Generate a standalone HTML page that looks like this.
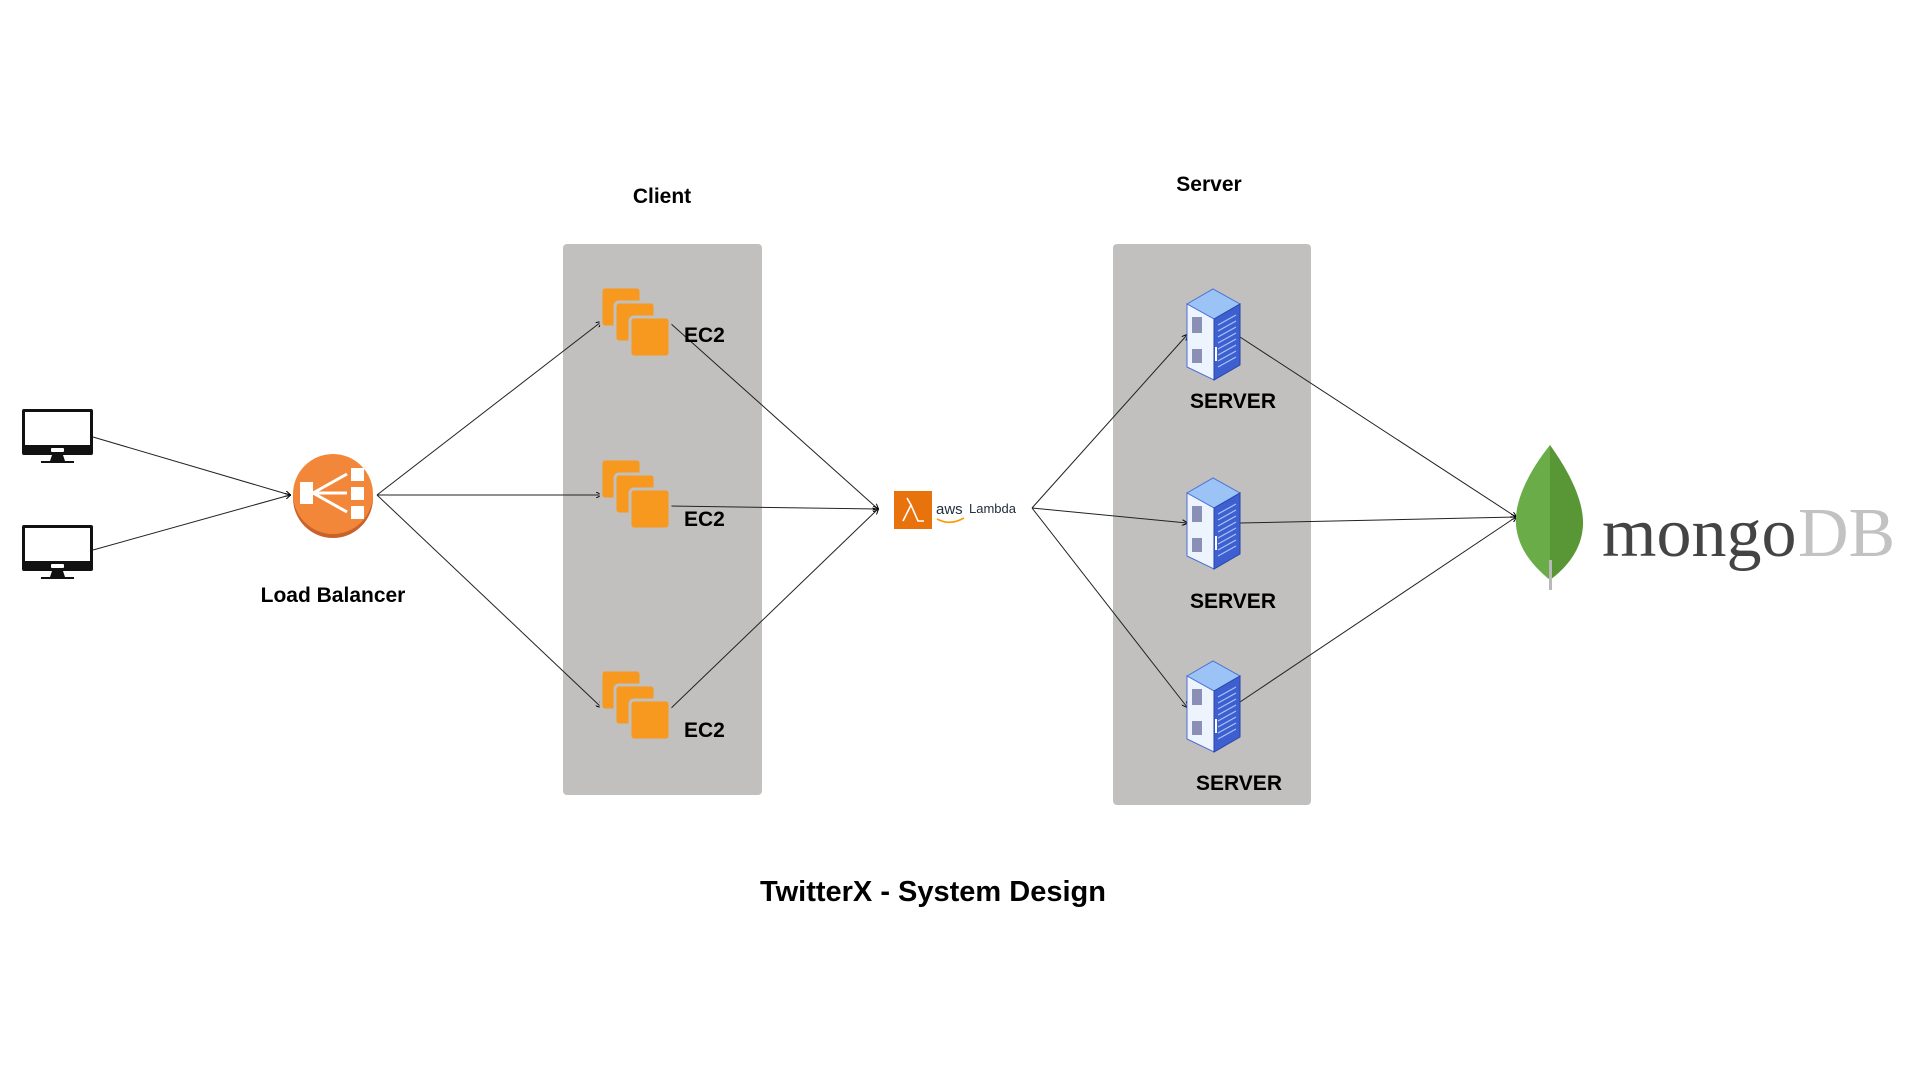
<!DOCTYPE html>
<html><head><meta charset="utf-8"><style>
html,body{margin:0;padding:0;background:#fff;}
svg{display:block}
.l{font-family:"Liberation Sans",sans-serif;font-weight:bold;fill:#000}
</style></head><body>
<svg width="1920" height="1080" viewBox="0 0 1920 1080" xmlns="http://www.w3.org/2000/svg">
<defs>
<marker id="a" markerWidth="6" markerHeight="6" refX="5" refY="3" orient="auto"><path d="M0,0 L6,3 L0,6" fill="none" stroke="#000" stroke-width="1"/></marker>
<g id="ec2">
<rect x="0" y="0" width="40" height="40" rx="4" fill="#f7991f" stroke="#c1c0bf" stroke-width="3"/>
<rect x="14" y="15" width="40" height="40" rx="4" fill="#f7991f" stroke="#c1c0bf" stroke-width="3"/>
<rect x="29" y="30" width="40" height="40" rx="4" fill="#f7991f" stroke="#c1c0bf" stroke-width="3"/>
</g>
<g id="srv">
<polygon points="0,15 26,0 53,15 27,30" fill="#9cc3f5" stroke="#4a6fd6" stroke-width="1"/>
<polygon points="0,15 27,30 27,91 0,78" fill="#eef4fd" stroke="#4a6fd6" stroke-width="1"/>
<polygon points="27,30 53,15 53,76 27,91" fill="#3d5fd0" stroke="#2a45a8" stroke-width="1"/>
<rect x="5" y="28" width="10" height="16" fill="#8a8fb5"/>
<rect x="5" y="60" width="10" height="14" fill="#8a8fb5"/>
<g stroke="#a9c4f7" stroke-width="1.2">
<line x1="31" y1="36" x2="49" y2="26"/><line x1="31" y1="42" x2="49" y2="32"/><line x1="31" y1="48" x2="49" y2="38"/><line x1="31" y1="54" x2="49" y2="44"/><line x1="31" y1="60" x2="49" y2="50"/><line x1="31" y1="66" x2="49" y2="56"/><line x1="31" y1="72" x2="49" y2="62"/><line x1="31" y1="78" x2="49" y2="68"/>
</g>
<line x1="29" y1="58" x2="29" y2="72" stroke="#fff" stroke-width="2"/>
</g>
<g id="mon">
<rect x="0" y="0" width="71" height="46" rx="2" fill="#111"/>
<rect x="3" y="3" width="65" height="33" fill="#fff"/>
<rect x="29" y="39" width="13" height="4" rx="1" fill="#fff"/>
<polygon points="30,46 41,46 43,52 28,52" fill="#111"/>
<rect x="19" y="52" width="33" height="2" fill="#111"/>
</g>
</defs>

<rect x="563" y="244" width="199" height="551" rx="4" fill="#c1c0bf"/>
<rect x="1113" y="244" width="198" height="561" rx="4" fill="#c1c0bf"/>

<text class="l" x="662" y="203" font-size="21" text-anchor="middle">Client</text>
<text class="l" x="1209" y="191" font-size="21" text-anchor="middle">Server</text>

<use href="#mon" x="22" y="409"/>
<use href="#mon" x="22" y="525"/>

<g stroke="#222" stroke-width="1" fill="none" marker-end="url(#a)">
<line x1="93" y1="437" x2="290" y2="495"/>
<line x1="93" y1="550" x2="290" y2="495"/>
<line x1="377" y1="495" x2="601" y2="322"/>
<line x1="377" y1="495" x2="601" y2="495"/>
<line x1="377" y1="495" x2="601" y2="707"/>
<line x1="669" y1="322" x2="878" y2="509"/>
<line x1="669" y1="506" x2="878" y2="509"/>
<line x1="665" y1="714" x2="878" y2="509"/>
<line x1="1032" y1="508" x2="1187" y2="335"/>
<line x1="1032" y1="508" x2="1187" y2="523"/>
<line x1="1032" y1="508" x2="1187" y2="707"/>
<line x1="1240" y1="337" x2="1516" y2="517"/>
<line x1="1240" y1="523" x2="1516" y2="517"/>
<line x1="1240" y1="702" x2="1516" y2="517"/>
</g>

<ellipse cx="333" cy="498" rx="40" ry="40" fill="#c9622a"/>
<ellipse cx="333" cy="494" rx="40" ry="40" fill="#f2873a"/>
<g fill="#fff">
<rect x="300" y="482" width="13" height="22"/>
<rect x="351" y="468" width="13" height="13"/>
<rect x="351" y="487" width="13" height="13"/>
<rect x="351" y="506" width="13" height="13"/>
</g>
<g stroke="#fff" stroke-width="3"><line x1="313" y1="493" x2="347" y2="474"/><line x1="313" y1="493" x2="347" y2="493"/><line x1="313" y1="493" x2="347" y2="512"/></g>
<text class="l" x="333" y="602" font-size="21" text-anchor="middle">Load Balancer</text>

<use href="#ec2" x="601" y="287"/>
<use href="#ec2" x="601" y="459"/>
<use href="#ec2" x="601" y="670"/>
<text class="l" x="684" y="342" font-size="21">EC2</text>
<text class="l" x="684" y="526" font-size="21">EC2</text>
<text class="l" x="684" y="737" font-size="21">EC2</text>

<rect x="894" y="491" width="38" height="38" fill="#e8720c"/>
<path d="M903,521 L911,505 L907,498 M911,505 L918,521 L924,521" fill="none" stroke="#fff" stroke-width="1.6"/>
<text x="936" y="514" font-family="Liberation Sans,sans-serif" font-size="15" fill="#232f3e">aws</text>
<text x="969" y="513" font-family="Liberation Sans,sans-serif" font-size="13" fill="#232f3e">Lambda</text>
<path d="M937,519 Q950,526 964,518" fill="none" stroke="#f90" stroke-width="1.6"/>

<use href="#srv" x="1187" y="289"/>
<use href="#srv" x="1187" y="478"/>
<use href="#srv" x="1187" y="661"/>
<text class="l" x="1233" y="408" font-size="21" text-anchor="middle">SERVER</text>
<text class="l" x="1233" y="608" font-size="21" text-anchor="middle">SERVER</text>
<text class="l" x="1239" y="790" font-size="21" text-anchor="middle">SERVER</text>

<path d="M1550,445 C1530,470 1514,500 1516,525 C1518,550 1535,568 1550,580 Z" fill="#6aad48"/>
<path d="M1550,445 C1568,470 1584,500 1583,525 C1582,550 1566,568 1550,580 Z" fill="#589636"/>
<rect x="1549" y="560" width="3" height="30" fill="#b9b9b9"/>
<text x="1602" y="556" font-family="Liberation Serif,serif" font-size="70" fill="#444">mongo</text>
<text x="1798" y="556" font-family="Liberation Serif,serif" font-size="70" fill="#c2c2c2">DB</text>

<text class="l" x="933" y="901" font-size="29" text-anchor="middle">TwitterX - System Design</text>
</svg>
</body></html>
